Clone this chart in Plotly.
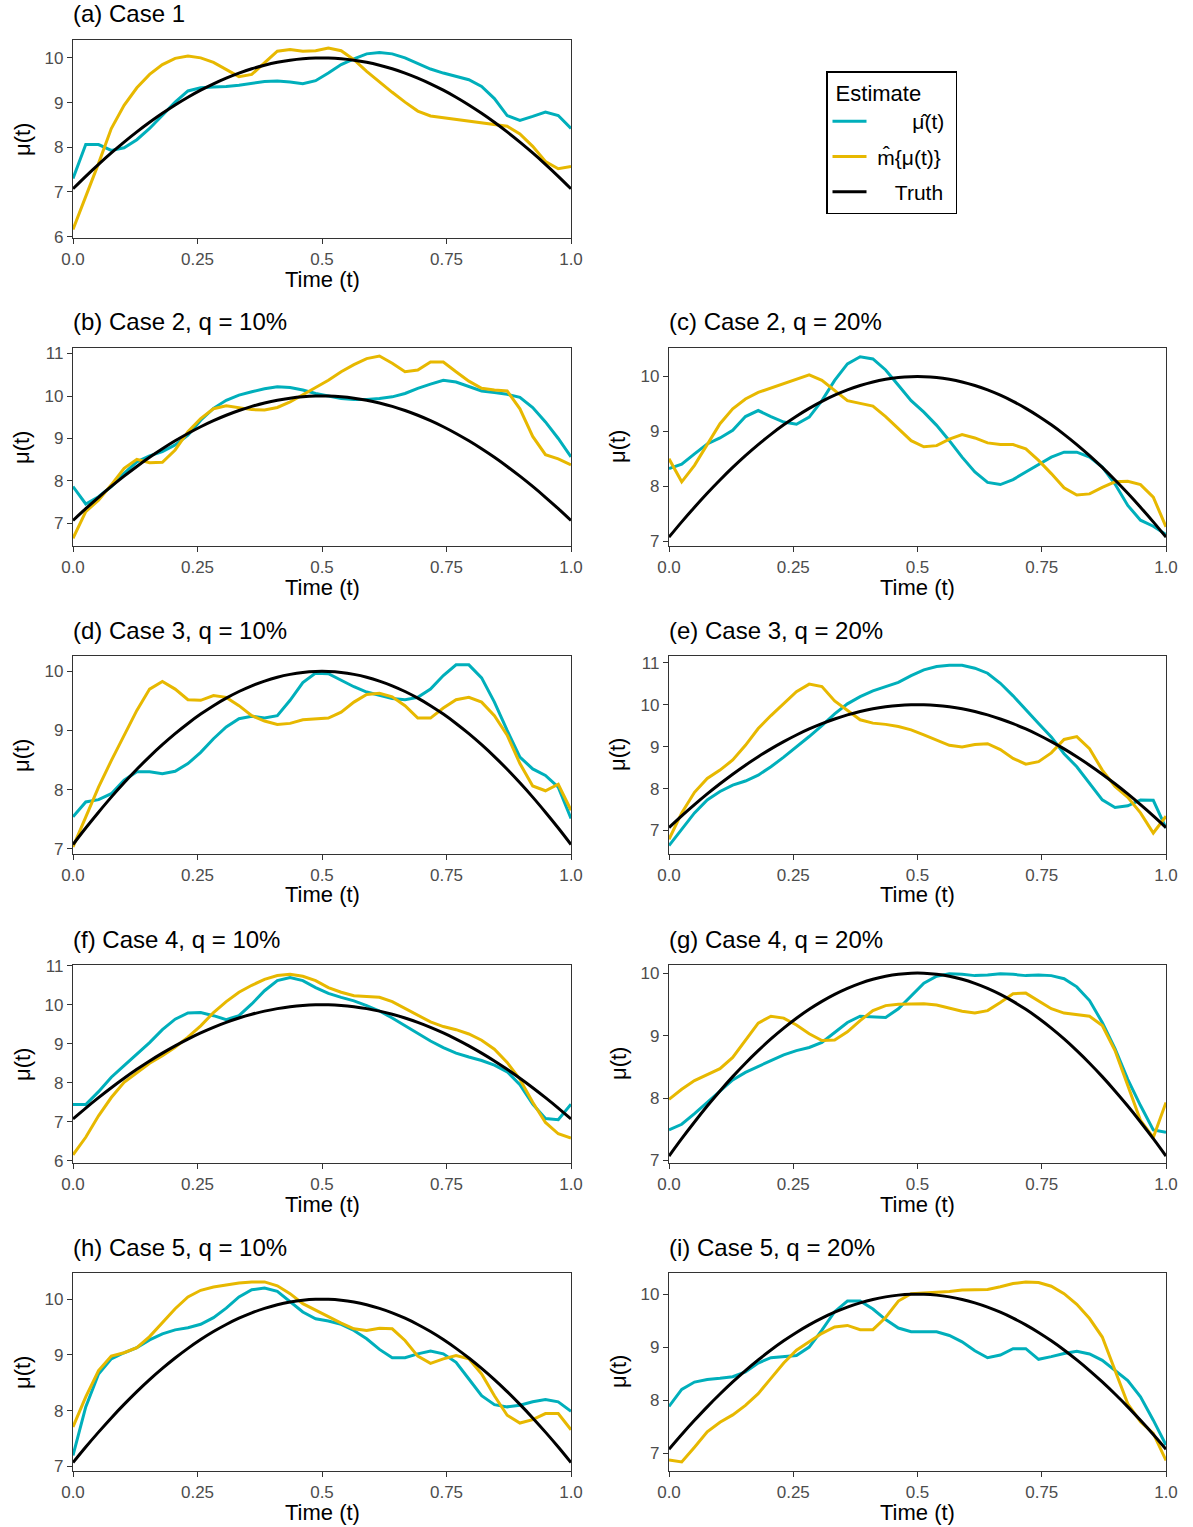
import plotly.graph_objects as go

# ---------------- data ----------------
t = [0.0000, 0.0256, 0.0513, 0.0769, 0.1026, 0.1282, 0.1538, 0.1795, 0.2051, 0.2308,
     0.2564, 0.2821, 0.3077, 0.3333, 0.3590, 0.3846, 0.4103, 0.4359, 0.4615, 0.4872,
     0.5128, 0.5385, 0.5641, 0.5897, 0.6154, 0.6410, 0.6667, 0.6923, 0.7179, 0.7436,
     0.7692, 0.7949, 0.8205, 0.8462, 0.8718, 0.8974, 0.9231, 0.9487, 0.9744, 1.0000]

truth = [7.071, 7.350, 7.617, 7.872, 8.114, 8.343, 8.558, 8.759, 8.946, 9.119,
         9.277, 9.420, 9.547, 9.659, 9.756, 9.836, 9.901, 9.949, 9.982, 9.998,
         9.998, 9.982, 9.949, 9.901, 9.836, 9.756, 9.659, 9.547, 9.420, 9.277,
         9.119, 8.946, 8.759, 8.558, 8.343, 8.114, 7.872, 7.617, 7.350, 7.071]

a_mu = [7.30, 8.06, 8.06, 7.93, 7.99, 8.17, 8.42, 8.71, 9.01, 9.26, 9.33, 9.35, 9.36, 9.39, 9.43, 9.47, 9.48, 9.46, 9.42, 9.49,
        9.66, 9.85, 9.98, 10.09, 10.12, 10.09, 10.00, 9.88, 9.75, 9.66, 9.58, 9.51, 9.36, 9.09, 8.71, 8.60, 8.69, 8.79, 8.71, 8.42]
a_m = [6.16, 6.89, 7.64, 8.42, 8.94, 9.33, 9.63, 9.85, 9.99, 10.04, 10.00, 9.90, 9.74, 9.58, 9.63, 9.88, 10.15, 10.19, 10.15, 10.16,
       10.22, 10.16, 9.96, 9.70, 9.46, 9.23, 9.01, 8.81, 8.70, 8.66, 8.63, 8.59, 8.54, 8.51, 8.47, 8.30, 8.02, 7.68, 7.52, 7.57]

b_mu = [7.87, 7.46, 7.63, 7.87, 8.18, 8.45, 8.59, 8.69, 8.85, 9.08, 9.43, 9.71, 9.90, 10.02, 10.10, 10.17, 10.22, 10.20, 10.14, 10.06,
        10.00, 9.94, 9.92, 9.92, 9.94, 9.98, 10.06, 10.18, 10.28, 10.37, 10.33, 10.22, 10.12, 10.08, 10.04, 9.97, 9.73, 9.39, 9.00, 8.57]
b_m = [6.65, 7.28, 7.55, 7.91, 8.30, 8.51, 8.43, 8.44, 8.73, 9.16, 9.47, 9.70, 9.77, 9.73, 9.68, 9.67, 9.73, 9.86, 10.02, 10.20,
       10.37, 10.57, 10.74, 10.88, 10.94, 10.77, 10.57, 10.61, 10.80, 10.80, 10.57, 10.35, 10.18, 10.14, 10.12, 9.70, 9.05, 8.62, 8.52, 8.38]

c_mu = [8.32, 8.40, 8.59, 8.77, 8.88, 9.02, 9.27, 9.38, 9.27, 9.17, 9.13, 9.26, 9.56, 9.93, 10.23, 10.36, 10.32, 10.12, 9.84, 9.56,
        9.35, 9.11, 8.83, 8.53, 8.26, 8.07, 8.03, 8.12, 8.26, 8.40, 8.53, 8.62, 8.62, 8.53, 8.35, 8.04, 7.65, 7.38, 7.27, 7.12]
c_m = [8.50, 8.08, 8.38, 8.77, 9.14, 9.41, 9.59, 9.71, 9.79, 9.87, 9.96, 10.03, 9.93, 9.74, 9.56, 9.51, 9.46, 9.27, 9.05, 8.83,
       8.72, 8.74, 8.86, 8.94, 8.88, 8.79, 8.76, 8.76, 8.68, 8.47, 8.23, 7.97, 7.84, 7.86, 7.98, 8.08, 8.09, 8.03, 7.80, 7.26]

d_mu = [7.54, 7.79, 7.83, 7.93, 8.16, 8.30, 8.30, 8.27, 8.31, 8.44, 8.63, 8.86, 9.06, 9.20, 9.24, 9.21, 9.25, 9.51, 9.81, 9.97,
        9.96, 9.85, 9.74, 9.65, 9.59, 9.54, 9.52, 9.56, 9.70, 9.93, 10.11, 10.11, 9.89, 9.48, 9.00, 8.55, 8.35, 8.24, 8.04, 7.51]
d_m = [7.03, 7.54, 8.04, 8.49, 8.92, 9.34, 9.70, 9.83, 9.70, 9.52, 9.51, 9.59, 9.56, 9.42, 9.25, 9.16, 9.10, 9.12, 9.18, 9.20,
       9.21, 9.31, 9.48, 9.61, 9.63, 9.57, 9.42, 9.21, 9.21, 9.38, 9.52, 9.56, 9.48, 9.25, 8.92, 8.44, 8.06, 7.98, 8.09, 7.65]

e_mu = [6.64, 7.02, 7.42, 7.73, 7.93, 8.08, 8.18, 8.32, 8.52, 8.75, 8.99, 9.24, 9.50, 9.78, 10.02, 10.19, 10.33, 10.43, 10.53, 10.69,
        10.83, 10.91, 10.94, 10.94, 10.87, 10.75, 10.51, 10.21, 9.87, 9.55, 9.23, 8.83, 8.52, 8.12, 7.73, 7.55, 7.59, 7.73, 7.72, 7.06]
e_m = [6.79, 7.42, 7.91, 8.24, 8.44, 8.68, 9.03, 9.43, 9.74, 10.02, 10.31, 10.49, 10.43, 10.09, 9.86, 9.64, 9.56, 9.53, 9.48, 9.40,
       9.28, 9.15, 9.03, 8.99, 9.05, 9.07, 8.93, 8.72, 8.58, 8.64, 8.85, 9.17, 9.24, 8.95, 8.44, 8.05, 7.79, 7.42, 6.94, 7.34]

f_mu = [7.44, 7.44, 7.77, 8.14, 8.44, 8.74, 9.03, 9.36, 9.63, 9.79, 9.80, 9.72, 9.62, 9.72, 10.02, 10.36, 10.62, 10.70, 10.62, 10.44,
        10.29, 10.19, 10.10, 9.98, 9.84, 9.66, 9.46, 9.26, 9.07, 8.90, 8.76, 8.66, 8.57, 8.45, 8.28, 7.95, 7.45, 7.08, 7.05, 7.45]
f_m = [6.15, 6.60, 7.15, 7.62, 8.01, 8.26, 8.50, 8.69, 8.91, 9.17, 9.46, 9.80, 10.08, 10.32, 10.50, 10.65, 10.75, 10.78, 10.73, 10.62,
       10.44, 10.32, 10.23, 10.21, 10.19, 10.08, 9.91, 9.72, 9.56, 9.44, 9.36, 9.25, 9.09, 8.86, 8.52, 8.09, 7.50, 6.98, 6.69, 6.58]

g_mu = [7.49, 7.58, 7.75, 7.93, 8.12, 8.29, 8.41, 8.51, 8.60, 8.69, 8.76, 8.81, 8.89, 9.05, 9.21, 9.31, 9.30, 9.29, 9.43, 9.64,
        9.84, 9.95, 9.99, 9.98, 9.96, 9.97, 9.99, 9.98, 9.96, 9.97, 9.96, 9.91, 9.78, 9.56, 9.21, 8.79, 8.30, 7.88, 7.49, 7.45]
g_m = [7.98, 8.14, 8.28, 8.37, 8.47, 8.65, 8.92, 9.20, 9.31, 9.28, 9.17, 9.03, 8.92, 8.93, 9.06, 9.24, 9.40, 9.48, 9.50, 9.50,
       9.51, 9.49, 9.44, 9.39, 9.36, 9.40, 9.53, 9.67, 9.68, 9.56, 9.43, 9.36, 9.33, 9.31, 9.16, 8.76, 8.20, 7.64, 7.37, 7.93]

h_mu = [7.20, 8.07, 8.66, 8.93, 9.04, 9.13, 9.27, 9.38, 9.45, 9.49, 9.55, 9.67, 9.84, 10.04, 10.17, 10.20, 10.14, 9.96, 9.77, 9.65,
        9.61, 9.55, 9.44, 9.29, 9.10, 8.95, 8.95, 9.02, 9.07, 9.02, 8.87, 8.57, 8.27, 8.11, 8.07, 8.10, 8.16, 8.20, 8.16, 7.99]
h_m = [7.71, 8.25, 8.72, 8.98, 9.04, 9.13, 9.33, 9.59, 9.83, 10.04, 10.16, 10.22, 10.26, 10.29, 10.31, 10.31, 10.24, 10.10, 9.92, 9.80,
       9.69, 9.57, 9.47, 9.44, 9.48, 9.47, 9.26, 8.98, 8.85, 8.93, 8.99, 8.93, 8.66, 8.27, 7.92, 7.78, 7.84, 7.95, 7.95, 7.66]

i_mu = [7.88, 8.20, 8.34, 8.39, 8.41, 8.44, 8.53, 8.70, 8.80, 8.82, 8.84, 9.00, 9.32, 9.67, 9.87, 9.87, 9.72, 9.52, 9.36, 9.29,
        9.29, 9.29, 9.22, 9.10, 8.93, 8.80, 8.85, 8.97, 8.97, 8.77, 8.82, 8.88, 8.92, 8.87, 8.75, 8.56, 8.37, 8.06, 7.62, 7.15]
i_m = [6.87, 6.83, 7.11, 7.40, 7.58, 7.72, 7.90, 8.12, 8.41, 8.70, 8.94, 9.10, 9.26, 9.38, 9.41, 9.33, 9.33, 9.56, 9.87, 10.01,
       10.02, 10.03, 10.05, 10.08, 10.09, 10.09, 10.14, 10.20, 10.23, 10.22, 10.15, 10.01, 9.81, 9.54, 9.19, 8.56, 7.93, 7.59, 7.37, 6.86]

titles = ["(a) Case 1", "(b) Case 2, q = 10%", "(c) Case 2, q = 20%",
          "(d) Case 3, q = 10%", "(e) Case 3, q = 20%", "(f) Case 4, q = 10%",
          "(g) Case 4, q = 20%", "(h) Case 5, q = 10%", "(i) Case 5, q = 20%"]
mu_hat = [a_mu, b_mu, c_mu, d_mu, e_mu, f_mu, g_mu, h_mu, i_mu]
m_hat = [a_m, b_m, c_m, d_m, e_m, f_m, g_m, h_m, i_m]
y_ranges = [[5.97, 10.40], [6.47, 11.13], [6.91, 10.52], [6.91, 10.26], [6.44, 11.16],
            [5.94, 11.02], [6.96, 10.13], [6.92, 10.47], [6.66, 10.40]]
x_ticks = [0, 0.25, 0.5, 0.75, 1]
x_ticktext = ["0.0", "0.25", "0.5", "0.75", "1.0"]
NB = "\u00a0"
legend_names = [NB * 7 + "\u03bc\u0302(t)" + NB,
                NB + "m\u0302{\u03bc(t)}" + NB,
                NB * 4 + "Truth" + NB]
legend_title = NB + "Estimate"

# ---------------- layout geometry ----------------
W, H = 1193, 1527
CYAN, GOLD = "#00AFBB", "#E7B800"
FONT = "Liberation Sans, Arial, Helvetica, sans-serif"
col_px = {"L": (73, 571), "R": (669, 1166)}
row_px = [(40, 238), (348, 546), (656, 854), (965, 1163), (1273, 1471)]
placement = [("L", 0), ("L", 1), ("R", 1), ("L", 2), ("R", 2),
             ("L", 3), ("R", 3), ("L", 4), ("R", 4)]

fig = go.Figure()
layout = dict(
    template="none",
    width=W, height=H,
    margin=dict(l=0, r=0, t=0, b=0, pad=0, autoexpand=False),
    paper_bgcolor="white", plot_bgcolor="white",
    font=dict(family=FONT, color="black"),
    showlegend=True,
    legend=dict(
        x=826 / W, y=1 - 71 / H, xanchor="left", yanchor="top",
        bordercolor="black", borderwidth=1.5, bgcolor="white",
        font=dict(size=21, family=FONT, color="black"),
        title=dict(text=legend_title, font=dict(size=22, family=FONT)),
        tracegroupgap=5, itemwidth=34,
    ),
)
annotations = []

for k in range(9):
    col, row = placement[k]
    x0, x1 = col_px[col]
    top, bot = row_px[row]
    sfx = "" if k == 0 else str(k + 1)
    xa, ya = "x" + sfx, "y" + sfx
    first = (k == 0)
    fig.add_trace(go.Scatter(x=t, y=mu_hat[k], mode="lines", xaxis=xa, yaxis=ya,
                             line=dict(color=CYAN, width=3), name=legend_names[0],
                             legendgroup="mu", showlegend=first))
    fig.add_trace(go.Scatter(x=t, y=m_hat[k], mode="lines", xaxis=xa, yaxis=ya,
                             line=dict(color=GOLD, width=3), name=legend_names[1],
                             legendgroup="m", showlegend=first))
    fig.add_trace(go.Scatter(x=t, y=truth, mode="lines", xaxis=xa, yaxis=ya,
                             line=dict(color="black", width=3, shape="spline"),
                             name=legend_names[2], legendgroup="truth", showlegend=first))
    axis_common = dict(showline=True, linecolor="#333333", linewidth=1.2, mirror=True,
                       showgrid=False, zeroline=False, ticks="outside", ticklen=5,
                       tickcolor="#333333", tickwidth=1.2, automargin=False,
                       tickfont=dict(size=17, color="#4d4d4d", family=FONT))
    layout["xaxis" + sfx] = dict(axis_common, domain=[x0 / W, x1 / W], range=[0, 1],
                                 tickvals=x_ticks, ticktext=x_ticktext,
                                 anchor=ya)
    layout["yaxis" + sfx] = dict(axis_common, domain=[1 - bot / H, 1 - top / H],
                                 range=y_ranges[k], tick0=0, dtick=1, anchor=xa)
    annotations.append(dict(text=titles[k], xref="paper", yref="paper",
                            x=(x0 - 2) / W, y=1 - (top - 26) / H, xanchor="left", yanchor="middle",
                            showarrow=False, font=dict(size=24, family=FONT, color="black")))
    annotations.append(dict(text="Time (t)", xref="paper", yref="paper",
                            x=(x0 + x1) / 2 / W, y=1 - (bot + 41) / H,
                            xanchor="center", yanchor="middle",
                            showarrow=False, font=dict(size=22, family=FONT, color="black")))
    annotations.append(dict(text="\u03bc(t)", xref="paper", yref="paper",
                            x=(x0 - 51) / W, y=1 - (top + bot) / 2 / H,
                            xanchor="center", yanchor="middle", textangle=-90,
                            showarrow=False, font=dict(size=22, family=FONT, color="black")))

layout["annotations"] = annotations
fig.update_layout(**layout)
fig.write_html("out.html")
